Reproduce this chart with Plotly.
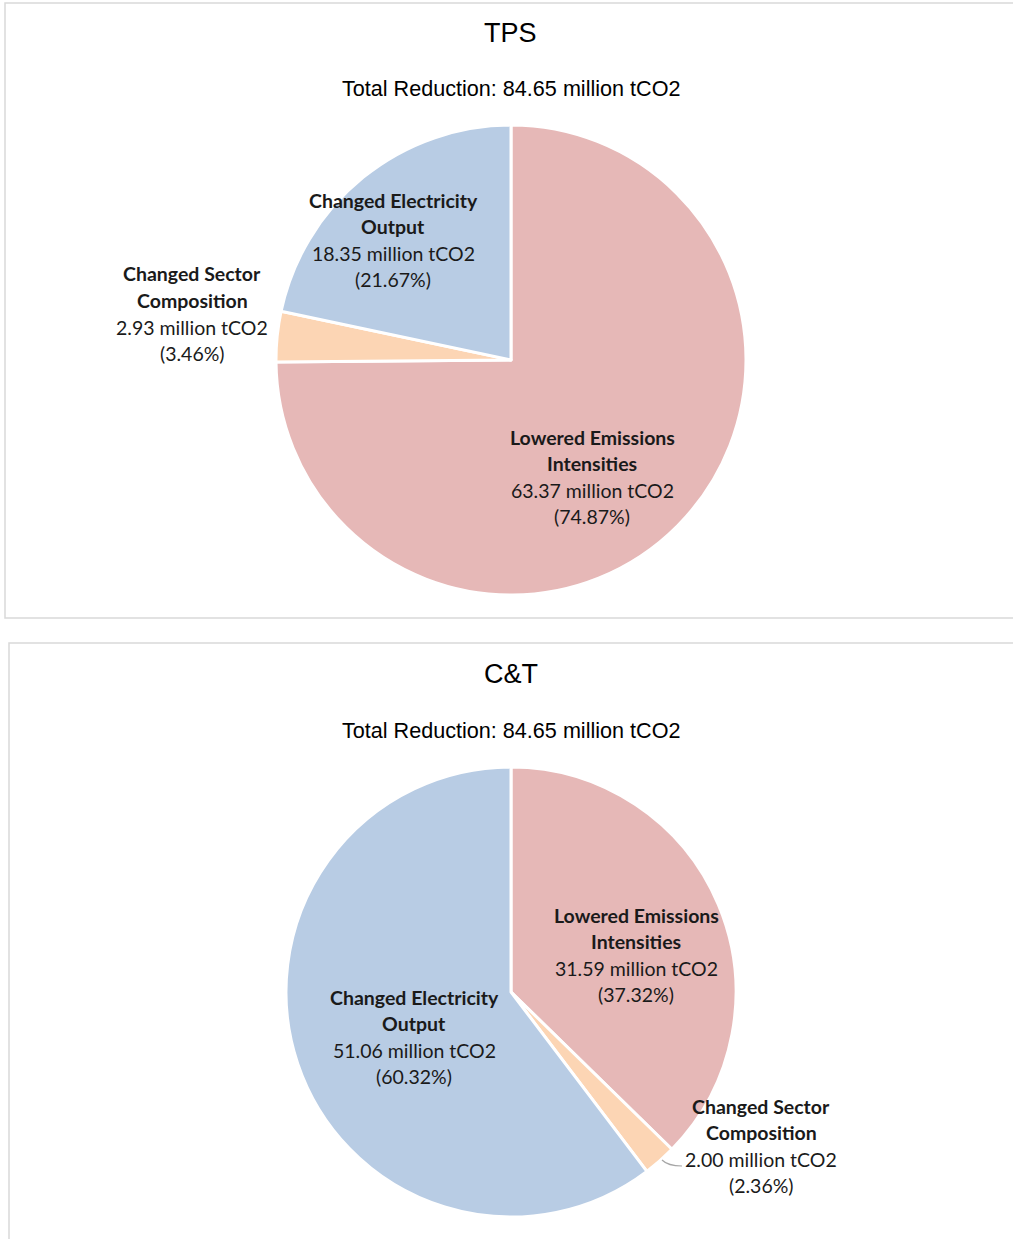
import plotly.graph_objects as go

W, H = 1013, 1239

CATEGORIES = ["Lowered Emissions Intensities", "Changed Sector Composition",
              "Changed Electricity Output"]
TPS_VALUES = [63.37, 2.93, 18.35]
TPS_PCT = [74.87, 3.46, 21.67]
CT_VALUES = [31.59, 2.00, 51.06]
CT_PCT = [37.32, 2.36, 60.32]
TOTALS = [84.65, 84.65]
PANEL_TITLES = ["TPS", "C&T"]

COLORS = ["#E6B8B7", "#FCD5B4", "#B8CCE4"]
BOLD_LINES = {
    "Lowered Emissions Intensities": ["Lowered Emissions", "Intensities"],
    "Changed Sector Composition": ["Changed Sector", "Composition"],
    "Changed Electricity Output": ["Changed Electricity", "Output"],
}

LABEL_FONT = "Lato, 'Open Sans', sans-serif"
TITLE_FONT = "'Liberation Sans', Arial, sans-serif"


def px(x):
    return x / W


def py(y):
    return 1 - y / H


# pixel layout of each panel: pie center/radius, title rows, label anchors (first line)
PANELS = [
    dict(cx=511, cy=360, r=235, title_y=33, sub_y=89, box=(5, 3, 1030, 618),
         labels=[(592, 437), (192, 274), (393, 200)]),
    dict(cx=511, cy=992, r=225, title_y=674, sub_y=730, box=(9, 643, 1030, 1260),
         labels=[(636, 915), (761, 1106), (414, 997)]),
]
LINE_STEP = 26.6

fig = go.Figure()
annotations = []
shapes = []

for p, values, pct, total, title in zip(PANELS, [TPS_VALUES, CT_VALUES],
                                         [TPS_PCT, CT_PCT], TOTALS, PANEL_TITLES):
    fig.add_trace(go.Pie(
        labels=CATEGORIES,
        values=values,
        sort=False,
        direction="clockwise",
        rotation=0,
        textinfo="none",
        hoverinfo="label+value+percent",
        marker=dict(colors=COLORS, line=dict(color="white", width=3)),
        domain=dict(x=[px(p["cx"] - p["r"]), px(p["cx"] + p["r"])],
                    y=[py(p["cy"] + p["r"]), py(p["cy"] - p["r"])]),
        showlegend=False,
    ))

    x0, y0, x1, y1 = p["box"]
    shapes.append(dict(type="rect", xref="paper", yref="paper",
                       x0=px(x0), x1=px(x1), y0=py(y1), y1=py(y0),
                       line=dict(color="#D9D9D9", width=1.5), layer="below"))

    annotations.append(dict(text=title, x=px(511), y=py(p["title_y"]),
                            xref="paper", yref="paper", showarrow=False,
                            xanchor="center", yanchor="middle",
                            font=dict(family=TITLE_FONT, size=27, color="#000000")))
    annotations.append(dict(text=f"Total Reduction: {total:.2f} million tCO2",
                            x=px(511), y=py(p["sub_y"]),
                            xref="paper", yref="paper", showarrow=False,
                            xanchor="center", yanchor="middle",
                            font=dict(family=TITLE_FONT, size=21.6, color="#000000")))

    for cat, v, pc, (lx, ly) in zip(CATEGORIES, values, pct, p["labels"]):
        lines = [f"<b>{t}</b>" for t in BOLD_LINES[cat]]
        lines += [f"{v:.2f} million tCO2", f"({pc:.2f}%)"]
        for i, t in enumerate(lines):
            annotations.append(dict(text=t, x=px(lx), y=py(ly + i * LINE_STEP),
                                    xref="paper", yref="paper", showarrow=False,
                                    xanchor="center", yanchor="middle",
                                    font=dict(family=LABEL_FONT, size=19.5,
                                              color="#1a1a1a")))

# leader line for the small C&T slice
shapes.append(dict(type="path", xref="paper", yref="paper",
                   path=f"M {px(662)} {py(1160)} Q {px(668)} {py(1166)} {px(682)} {py(1166)}",
                   line=dict(color="#A6A6A6", width=1.2)))

fig.update_layout(
    width=W, height=H,
    margin=dict(l=0, r=0, t=0, b=0),
    paper_bgcolor="white",
    annotations=annotations,
    shapes=shapes,
)

fig.write_html("out.html", config={"displayModeBar": False},
               post_script="document.body.style.margin = '0';")
